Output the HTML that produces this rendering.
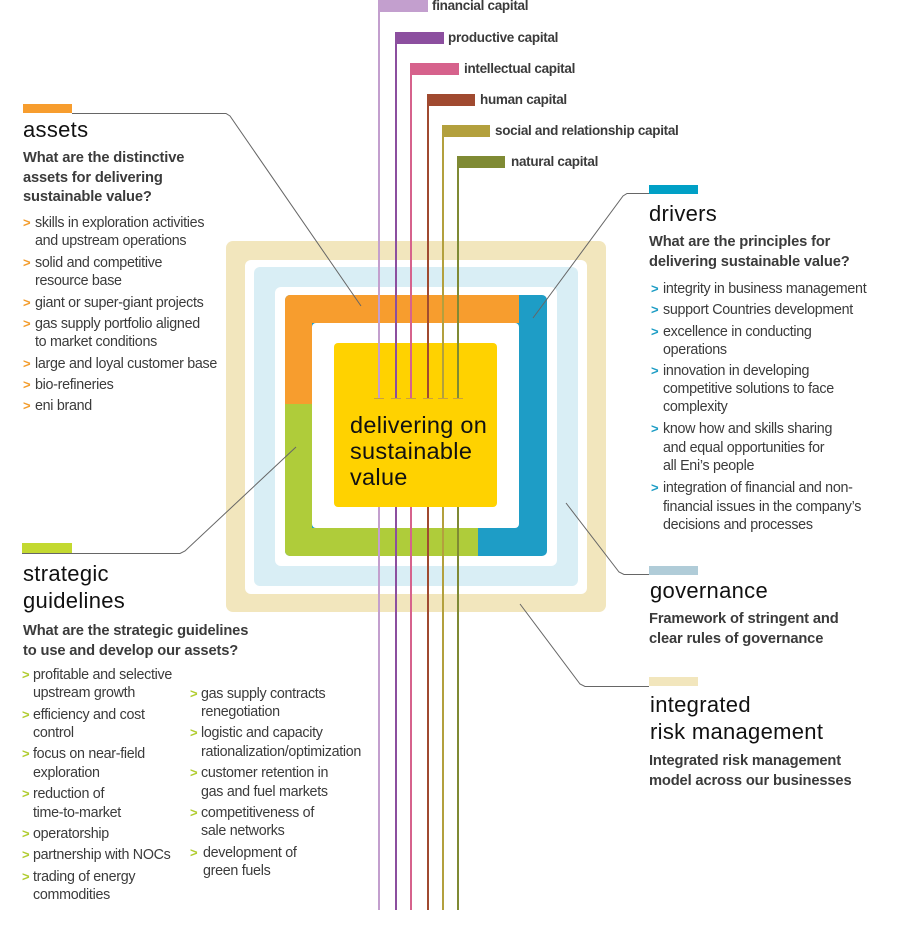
<!DOCTYPE html>
<html><head><meta charset="utf-8"><style>
html,body{margin:0;padding:0;background:#fff;}
#c{position:relative;width:900px;height:926px;overflow:hidden;font-family:"Liberation Sans",sans-serif;}
#c svg{position:absolute;left:0;top:0;}
.t{position:absolute;white-space:nowrap;color:#3b3b3b;font-size:14.3px;letter-spacing:-0.3px;line-height:18px;}
.h{position:absolute;white-space:nowrap;color:#111;font-size:22px;letter-spacing:0.3px;line-height:26px;}
.q{position:absolute;white-space:nowrap;color:#3b3b3b;font-size:14.7px;font-weight:bold;letter-spacing:-0.15px;line-height:19.5px;}
.cap{position:absolute;white-space:nowrap;color:#3b3b3b;font-size:13.5px;font-weight:bold;letter-spacing:-0.3px;line-height:16px;}
.a{position:absolute;font-size:13px;font-weight:bold;line-height:18px;}
.o{color:#f39c2b}.b{color:#1b9cc4}.g{color:#b0cc2e}
</style></head><body><div id="c">
<svg width="900" height="926" viewBox="0 0 900 926">
<rect x="226" y="241" width="380" height="371" rx="7" fill="#f2e6bd"/>
<rect x="245" y="260" width="342" height="334" rx="6" fill="#fff"/>
<rect x="254" y="267" width="324" height="319" rx="6" fill="#d9eef5"/>
<rect x="275" y="287" width="282" height="279" rx="6" fill="#fff"/>
<rect x="285" y="295" width="262" height="261" rx="5" fill="#1e9dc6"/>
<path d="M290 295 H519 V323 H312 V404 H285 V300 A5 5 0 0 1 290 295Z" fill="#f79d2e"/>
<path d="M285 404 H312 V528 H478 V556 H290 A5 5 0 0 1 285 551Z" fill="#afcc3a"/>
<rect x="312" y="323" width="207" height="205" rx="4" fill="#fff"/>
<rect x="334" y="343" width="163" height="164" rx="4" fill="#ffd200"/>
<g stroke-width="2" fill="none">
<path d="M379 0 V398 M379 507 V910" stroke="#c39fce"/>
<path d="M396 32 V398 M396 507 V910" stroke="#8c4f9f"/>
<path d="M411 63 V398 M411 507 V910" stroke="#d6628c"/>
<path d="M428 94 V398 M428 507 V910" stroke="#a04a30"/>
<path d="M443 125 V398 M443 507 V910" stroke="#b3a03d"/>
<path d="M458 156 V398 M458 507 V910" stroke="#7f8a34"/>
</g>
<g stroke="#c8a040" stroke-width="1">
<path d="M374 398.5 H384 M391 398.5 H401 M406 398.5 H416 M423 398.5 H433 M438 398.5 H448 M453 398.5 H463"/>
</g>
<rect x="379" y="0" width="49" height="12" fill="#c39fce"/>
<rect x="395" y="32" width="49" height="12" fill="#8c4f9f"/>
<rect x="411" y="63" width="48" height="12" fill="#d6628c"/>
<rect x="427" y="94" width="48" height="12" fill="#a04a30"/>
<rect x="442" y="125" width="48" height="12" fill="#b3a03d"/>
<rect x="457" y="156" width="48" height="12" fill="#7f8a34"/>
<rect x="23" y="104" width="49" height="9" fill="#f79d2e"/>
<rect x="649" y="185" width="49" height="9" fill="#00a0c6"/>
<rect x="22" y="543" width="50" height="10" fill="#c3d930"/>
<rect x="649" y="566" width="49" height="9" fill="#b0ccd8"/>
<rect x="649" y="677" width="49" height="9" fill="#f2e6bd"/>
<g stroke="#666" stroke-width="1" fill="none">
<path d="M72 113.5 H226 L230 116 L361 306"/>
<path d="M649 193.5 H627 L623 196 L533 318"/>
<path d="M22 553.5 H180 L185 551 L296 447"/>
<path d="M649 574.5 H624 L619 572 L566 503"/>
<path d="M649 686.5 H585 L580 684 L520 604"/>
</g>
</svg>

<div class="cap" style="left:432px;top:-2px">financial capital</div>
<div class="cap" style="left:448px;top:30px">productive capital</div>
<div class="cap" style="left:464px;top:61px">intellectual capital</div>
<div class="cap" style="left:480px;top:92px">human capital</div>
<div class="cap" style="left:495px;top:123px">social and relationship capital</div>
<div class="cap" style="left:511px;top:154px">natural capital</div>

<div class="h" style="left:350px;top:412px;font-size:23.5px;line-height:26px;">delivering on<br>sustainable<br>value</div>

<div class="h" style="left:23px;top:117px">assets</div>
<div class="q" style="left:23px;top:149px">What are the distinctive<br>assets for delivering<br>sustainable value?</div>
<div class="a o" style="left:23px;top:214px">&gt;</div><div class="t" style="left:35px;top:214px">skills in exploration activities<br>and upstream operations</div>
<div class="a o" style="left:23px;top:254px">&gt;</div><div class="t" style="left:35px;top:254px">solid and competitive<br>resource base</div>
<div class="a o" style="left:23px;top:294px">&gt;</div><div class="t" style="left:35px;top:294px">giant or super-giant projects</div>
<div class="a o" style="left:23px;top:315px">&gt;</div><div class="t" style="left:35px;top:315px">gas supply portfolio aligned<br>to market conditions</div>
<div class="a o" style="left:23px;top:355px">&gt;</div><div class="t" style="left:35px;top:355px">large and loyal customer base</div>
<div class="a o" style="left:23px;top:376px">&gt;</div><div class="t" style="left:35px;top:376px">bio-refineries</div>
<div class="a o" style="left:23px;top:397px">&gt;</div><div class="t" style="left:35px;top:397px">eni brand</div>

<div class="h" style="left:649px;top:201px">drivers</div>
<div class="q" style="left:649px;top:233px">What are the principles for<br>delivering sustainable value?</div>
<div class="a b" style="left:651px;top:280px">&gt;</div><div class="t" style="left:663px;top:280px">integrity in business management</div>
<div class="a b" style="left:651px;top:301px">&gt;</div><div class="t" style="left:663px;top:301px">support Countries development</div>
<div class="a b" style="left:651px;top:323px">&gt;</div><div class="t" style="left:663px;top:323px">excellence in conducting<br>operations</div>
<div class="a b" style="left:651px;top:362px">&gt;</div><div class="t" style="left:663px;top:362px">innovation in developing<br>competitive solutions to face<br>complexity</div>
<div class="a b" style="left:651px;top:420px">&gt;</div><div class="t" style="left:663px;top:420px;line-height:18.5px">know how and skills sharing<br>and equal opportunities for<br>all Eni’s people</div>
<div class="a b" style="left:651px;top:479px">&gt;</div><div class="t" style="left:663px;top:479px;line-height:18.5px">integration of financial and non-<br>financial issues in the company’s<br>decisions and processes</div>

<div class="h" style="left:23px;top:560px;line-height:27px">strategic<br>guidelines</div>
<div class="q" style="left:23px;top:622px">What are the strategic guidelines<br>to use and develop our assets?</div>
<div class="a g" style="left:22px;top:666px">&gt;</div><div class="t" style="left:33px;top:666px">profitable and selective<br>upstream growth</div>
<div class="a g" style="left:22px;top:706px">&gt;</div><div class="t" style="left:33px;top:706px">efficiency and cost<br>control</div>
<div class="a g" style="left:22px;top:745px">&gt;</div><div class="t" style="left:33px;top:745px;line-height:19px">focus on near-field<br>exploration</div>
<div class="a g" style="left:22px;top:785px">&gt;</div><div class="t" style="left:33px;top:785px;line-height:19px">reduction of<br>time-to-market</div>
<div class="a g" style="left:22px;top:825px">&gt;</div><div class="t" style="left:33px;top:825px">operatorship</div>
<div class="a g" style="left:22px;top:846px">&gt;</div><div class="t" style="left:33px;top:846px">partnership with NOCs</div>
<div class="a g" style="left:22px;top:868px">&gt;</div><div class="t" style="left:33px;top:868px">trading of energy<br>commodities</div>
<div class="a g" style="left:190px;top:685px">&gt;</div><div class="t" style="left:201px;top:685px">gas supply contracts<br>renegotiation</div>
<div class="a g" style="left:190px;top:724px">&gt;</div><div class="t" style="left:201px;top:724px;line-height:19px">logistic and capacity<br>rationalization/optimization</div>
<div class="a g" style="left:190px;top:764px">&gt;</div><div class="t" style="left:201px;top:764px;line-height:19px">customer retention in<br>gas and fuel markets</div>
<div class="a g" style="left:190px;top:804px">&gt;</div><div class="t" style="left:201px;top:804px">competitiveness of<br>sale networks</div>
<div class="a g" style="left:190px;top:844px">&gt;</div><div class="t" style="left:203px;top:844px">development of<br>green fuels</div>

<div class="h" style="left:650px;top:578px">governance</div>
<div class="q" style="left:649px;top:610px">Framework of stringent and<br>clear rules of governance</div>

<div class="h" style="left:650px;top:691px;line-height:27px">integrated<br>risk management</div>
<div class="q" style="left:649px;top:752px">Integrated risk management<br>model across our businesses</div>
</div></body></html>
